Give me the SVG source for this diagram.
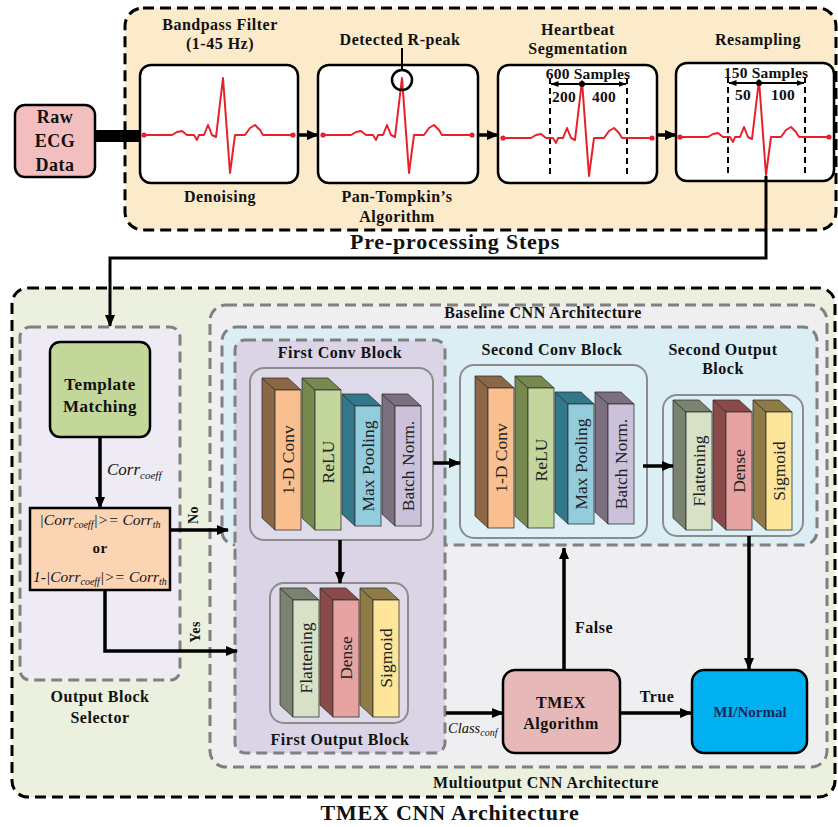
<svg xmlns="http://www.w3.org/2000/svg" width="838" height="827" viewBox="0 0 838 827">
<defs>
<style>
.kd{stroke:#000;stroke-width:3;stroke-dasharray:11 6}
.gd{stroke:#808080;stroke-width:3;stroke-dasharray:11 6}
.panel{fill:#fff;stroke:#000;stroke-width:2.5}
.node{stroke:#000;stroke-width:2.5}
.inner{stroke:#8c8c8c;stroke-width:2}
.t{font-family:"Liberation Serif","Times New Roman",serif;font-weight:bold;font-size:16px;text-anchor:middle;letter-spacing:0.5px;fill:#111}
.big{font-size:22px;letter-spacing:0.8px}
.num{font-size:15.5px;letter-spacing:0.2px}
.lyr{font-family:"Liberation Serif","Times New Roman",serif;font-size:17.5px;text-anchor:middle;fill:#222}
.it{font-family:"Liberation Serif","Times New Roman",serif;font-style:italic;font-size:15.5px;fill:#111}
.conn{fill:none;stroke:#000;stroke-width:3.5}
.thin{fill:none;stroke:#000;stroke-width:2}
.vd{fill:none;stroke:#000;stroke-width:2;stroke-dasharray:6 4}
.ecg{fill:none;stroke:#e8202a;stroke-width:2;stroke-linejoin:round}
.dot{fill:#e8202a}
.ln{stroke:#333;stroke-width:0.8}
</style>
<marker id="ah" viewBox="0 0 12 10" refX="11" refY="5" markerWidth="12" markerHeight="10" markerUnits="userSpaceOnUse" orient="auto">
<path d="M0,0 L12,5 L0,10 z" fill="#000"/>
</marker>
<marker id="as" viewBox="0 0 8 6" refX="7.5" refY="3" markerWidth="8" markerHeight="6" markerUnits="userSpaceOnUse" orient="auto-start-reverse">
<path d="M0,0 L8,3 L0,6 z" fill="#000"/>
</marker>
<g id="ecgw">
<path class="ecg" d="M0,0 L28,0 L33,-3 L38,-4 L43,0 L50,0 L53,5 L55,0 L60,0 L64,-10 L68,0 L72,2 L79,-57 L86,38 L91,0 L101,0 L106,-7 L111,-10 L116,-5 L119,0 L149,0"/>
<circle class="dot" cx="0" cy="0" r="2.6"/>
<circle class="dot" cx="149" cy="0" r="2.6"/>
</g>
</defs>

<rect width="838" height="827" fill="#fff"/>

<g id="preprocessing">
<rect class="kd" x="125" y="8" width="711" height="222" rx="18" fill="#fcebca"/>
<text class="t big" x="455" y="249">Pre-processing Steps</text>
</g>

<g id="raw-ecg">
<rect class="node" x="15" y="105" width="80" height="72" rx="10" fill="#f3bfbe"/>
<text class="t" x="55" y="123" style="font-size:18px">Raw</text>
<text class="t" x="55" y="147" style="font-size:18px">ECG</text>
<text class="t" x="55" y="171" style="font-size:18px">Data</text>
</g>

<g id="step-denoise">
<text class="t" x="220" y="30">Bandpass Filter</text>
<text class="t" x="220" y="49">(1-45 Hz)</text>
<rect class="panel" x="140" y="65" width="158" height="118" rx="11"/>
<use href="#ecgw" transform="translate(144,135)"/>
<text class="t" x="220" y="202">Denoising</text>
</g>

<g id="step-rpeak">
<text class="t" x="400" y="45">Detected R-peak</text>
<rect class="panel" x="318" y="65" width="160" height="118" rx="11"/>
<use href="#ecgw" transform="translate(323,135)"/>
<line class="thin" x1="402" y1="48" x2="402" y2="70"/>
<circle cx="402" cy="80" r="10" fill="none" stroke="#000" stroke-width="2.5"/>
<text class="t" x="397" y="202">Pan-Tompkin’s</text>
<text class="t" x="397" y="222">Algorithm</text>
</g>

<g id="step-segment">
<text class="t" x="578" y="35">Heartbeat</text>
<text class="t" x="578" y="54">Segmentation</text>
<rect class="panel" x="498" y="65" width="159" height="118" rx="11"/>
<line class="vd" x1="550" y1="78" x2="550" y2="178"/>
<line class="vd" x1="627" y1="78" x2="627" y2="178"/>
<use href="#ecgw" transform="translate(503,138)"/>
<line class="thin" x1="551" y1="84" x2="626" y2="84" marker-start="url(#as)" marker-end="url(#as)"/>
<circle cx="582" cy="84" r="3" fill="#000"/>
<text class="t num" x="588" y="79">600 Samples</text>
<text class="t num" x="564" y="102">200</text>
<text class="t num" x="604" y="102">400</text>
</g>

<g id="step-resample">
<text class="t" x="758" y="45">Resampling</text>
<rect class="panel" x="676" y="63" width="158" height="118" rx="11"/>
<line class="vd" x1="728" y1="77" x2="728" y2="176"/>
<line class="vd" x1="805" y1="77" x2="805" y2="176"/>
<use href="#ecgw" transform="translate(680,137)"/>
<line class="thin" x1="729" y1="83" x2="804" y2="83" marker-start="url(#as)" marker-end="url(#as)"/>
<circle cx="759" cy="83" r="3" fill="#000"/>
<text class="t num" x="766" y="78">150 Samples</text>
<text class="t num" x="743" y="100">50</text>
<text class="t num" x="783" y="100">100</text>
</g>

<g id="tmex-cnn">
<rect class="kd" x="12" y="288" width="823" height="509" rx="16" fill="#ebf1de"/>
<text class="t big" x="450" y="820">TMEX CNN Architecture</text>
</g>

<g id="output-block-selector">
<rect class="gd" x="20" y="327" width="160" height="353" rx="10" fill="#eeebf5"/>
<text class="t" x="100" y="702">Output Block</text>
<text class="t" x="100" y="723">Selector</text>
</g>

<g id="multioutput">
<rect class="gd" x="210" y="305" width="617" height="462" rx="16" fill="#efeff2"/>
<text class="t" x="546" y="788">Multioutput CNN Architecture</text>
</g>

<g id="baseline">
<rect class="gd" x="222" y="327" width="595" height="218" rx="14" fill="#dbeef4"/>
<text class="t" x="543" y="318">Baseline CNN Architecture</text>
</g>

<g id="template-matching">
<rect class="node" x="50" y="342" width="100" height="95" rx="10" fill="#c4d79b"/>
<text class="t" x="100" y="390" style="font-size:17px">Template</text>
<text class="t" x="100" y="412" style="font-size:17px">Matching</text>
</g>

<g id="condition">
<rect class="node" x="30" y="508" width="140" height="82" fill="#fbd4b4"/>
<text class="it" x="100" y="525" text-anchor="middle">|Corr<tspan font-size="10" dy="3">coeff</tspan><tspan dy="-3">|&gt;= Corr</tspan><tspan font-size="10" dy="3">th</tspan></text>
<text class="t" x="100" y="553" style="font-size:15px">or</text>
<text class="it" x="100" y="582" text-anchor="middle">1-|Corr<tspan font-size="10" dy="3">coeff</tspan><tspan dy="-3">|&gt;= Corr</tspan><tspan font-size="10" dy="3">th</tspan></text>
</g>

<g id="first-conv-block">
<rect class="gd" x="235" y="340" width="210" height="413" rx="10" fill="#dad4e6"/>
<text class="t" x="340" y="358">First Conv Block</text>
<rect class="inner" x="250" y="368" width="183" height="172" rx="14" fill="#dfdaea"/>
<polygon class="ln" points="262,378 275,390 275,530 262,518" fill="#8b6746"/>
<polygon class="ln" points="262,378 288,378 301,390 275,390" fill="#8b6746"/>
<rect class="ln" x="275" y="390" width="26" height="140" fill="#fabf8f"/>
<text class="lyr" transform="translate(288,460) rotate(-90)" dy="6">1-D Conv</text>
<polygon class="ln" points="302,378 315,390 315,530 302,518" fill="#77894f"/>
<polygon class="ln" points="302,378 328,378 341,390 315,390" fill="#77894f"/>
<rect class="ln" x="315" y="390" width="26" height="140" fill="#c3d69b"/>
<text class="lyr" transform="translate(328,462) rotate(-90)" dy="6">ReLU</text>
<polygon class="ln" points="342,394 355,406 355,526 342,514" fill="#31788a"/>
<polygon class="ln" points="342,394 368,394 381,406 355,406" fill="#31788a"/>
<rect class="ln" x="355" y="406" width="26" height="120" fill="#93cddd"/>
<text class="lyr" transform="translate(368,466) rotate(-90)" dy="6">Max Pooling</text>
<polygon class="ln" points="382,394 395,406 395,526 382,514" fill="#7b6f80"/>
<polygon class="ln" points="382,394 408,394 421,406 395,406" fill="#7b6f80"/>
<rect class="ln" x="395" y="406" width="26" height="120" fill="#ccc1da"/>
<text class="lyr" transform="translate(408,466) rotate(-90)" dy="6">Batch Norm.</text>
</g>

<g id="first-output-block">
<rect class="inner" x="270" y="583" width="138" height="140" rx="14" fill="#dfdaea"/>
<polygon class="ln" points="280,588 293,600 293,717 280,705" fill="#7a8270"/>
<polygon class="ln" points="280,588 306,588 319,600 293,600" fill="#7a8270"/>
<rect class="ln" x="293" y="600" width="26" height="117" fill="#d8e0c6"/>
<text class="lyr" transform="translate(306,658) rotate(-90)" dy="6">Flattening</text>
<polygon class="ln" points="320,588 333,600 333,717 320,705" fill="#8a4a4a"/>
<polygon class="ln" points="320,588 346,588 359,600 333,600" fill="#8a4a4a"/>
<rect class="ln" x="333" y="600" width="26" height="117" fill="#e6a3a1"/>
<text class="lyr" transform="translate(346,658) rotate(-90)" dy="6">Dense</text>
<polygon class="ln" points="360,588 373,600 373,717 360,705" fill="#8e7b45"/>
<polygon class="ln" points="360,588 386,588 399,600 373,600" fill="#8e7b45"/>
<rect class="ln" x="373" y="600" width="26" height="117" fill="#fde59a"/>
<text class="lyr" transform="translate(386,658) rotate(-90)" dy="6">Sigmoid</text>
<text class="t" x="340" y="745">First Output Block</text>
</g>

<g id="second-conv-block">
<text class="t" x="552" y="355">Second Conv Block</text>
<rect class="inner" x="460" y="365" width="187" height="173" rx="14" fill="#dcf0f5"/>
<polygon class="ln" points="475,376 488,388 488,528 475,516" fill="#8b6746"/>
<polygon class="ln" points="475,376 501,376 514,388 488,388" fill="#8b6746"/>
<rect class="ln" x="488" y="388" width="26" height="140" fill="#fabf8f"/>
<text class="lyr" transform="translate(501,458) rotate(-90)" dy="6">1-D Conv</text>
<polygon class="ln" points="515,376 528,388 528,528 515,516" fill="#77894f"/>
<polygon class="ln" points="515,376 541,376 554,388 528,388" fill="#77894f"/>
<rect class="ln" x="528" y="388" width="26" height="140" fill="#c3d69b"/>
<text class="lyr" transform="translate(541,460) rotate(-90)" dy="6">ReLU</text>
<polygon class="ln" points="555,392 568,404 568,524 555,512" fill="#31788a"/>
<polygon class="ln" points="555,392 581,392 594,404 568,404" fill="#31788a"/>
<rect class="ln" x="568" y="404" width="26" height="120" fill="#93cddd"/>
<text class="lyr" transform="translate(581,464) rotate(-90)" dy="6">Max Pooling</text>
<polygon class="ln" points="595,392 608,404 608,524 595,512" fill="#7b6f80"/>
<polygon class="ln" points="595,392 621,392 634,404 608,404" fill="#7b6f80"/>
<rect class="ln" x="608" y="404" width="26" height="120" fill="#ccc1da"/>
<text class="lyr" transform="translate(621,464) rotate(-90)" dy="6">Batch Norm.</text>
</g>

<g id="second-output-block">
<text class="t" x="723" y="355">Second Output</text>
<text class="t" x="723" y="374">Block</text>
<rect class="inner" x="663" y="395" width="140" height="141" rx="14" fill="#dcf0f5"/>
<polygon class="ln" points="673,400 686,412 686,530 673,518" fill="#7a8270"/>
<polygon class="ln" points="673,400 699,400 712,412 686,412" fill="#7a8270"/>
<rect class="ln" x="686" y="412" width="26" height="118" fill="#d8e0c6"/>
<text class="lyr" transform="translate(699,471) rotate(-90)" dy="6">Flattening</text>
<polygon class="ln" points="713,400 726,412 726,530 713,518" fill="#8a4a4a"/>
<polygon class="ln" points="713,400 739,400 752,412 726,412" fill="#8a4a4a"/>
<rect class="ln" x="726" y="412" width="26" height="118" fill="#e6a3a1"/>
<text class="lyr" transform="translate(739,471) rotate(-90)" dy="6">Dense</text>
<polygon class="ln" points="753,400 766,412 766,530 753,518" fill="#8e7b45"/>
<polygon class="ln" points="753,400 779,400 792,412 766,412" fill="#8e7b45"/>
<rect class="ln" x="766" y="412" width="26" height="118" fill="#fde59a"/>
<text class="lyr" transform="translate(779,471) rotate(-90)" dy="6">Sigmoid</text>
</g>

<g id="tmex-algorithm">
<rect class="node" x="503" y="670" width="117" height="83" rx="12" fill="#e6b9b8"/>
<text class="t" x="561" y="708">TMEX</text>
<text class="t" x="561" y="729">Algorithm</text>
</g>

<g id="mi-normal">
<rect class="node" x="692" y="670" width="115" height="83" rx="12" fill="#00b0f0"/>
<text class="t" x="750" y="717" style="fill:#1b2a5a;font-size:15px;letter-spacing:0">MI/Normal</text>
</g>

<g id="connectors">
<line x1="95" y1="136" x2="141" y2="136" stroke="#000" stroke-width="12"/>
<line class="conn" x1="298" y1="135" x2="318" y2="135" marker-end="url(#ah)"/>
<line class="conn" x1="478" y1="135" x2="498" y2="135" marker-end="url(#ah)"/>
<line class="conn" x1="657" y1="135" x2="676" y2="135" marker-end="url(#ah)"/>
<polyline class="conn" points="766,176 766,258 110,258 110,326" marker-end="url(#ah)" style="stroke-width:3"/>
<line class="conn" x1="100" y1="437" x2="100" y2="508" marker-end="url(#ah)"/>
<line class="conn" x1="170" y1="530" x2="228" y2="530" marker-end="url(#ah)"/>
<polyline class="conn" points="105,590 105,651 237,651" marker-end="url(#ah)"/>
<line class="conn" x1="433" y1="463" x2="460" y2="463" marker-end="url(#ah)"/>
<line class="conn" x1="340" y1="540" x2="340" y2="583" marker-end="url(#ah)"/>
<line class="conn" x1="643" y1="466" x2="673" y2="466" marker-end="url(#ah)"/>
<line class="conn" x1="749" y1="536" x2="749" y2="669" marker-end="url(#ah)"/>
<line class="conn" x1="446" y1="713" x2="503" y2="713" marker-end="url(#ah)"/>
<line class="conn" x1="620" y1="713" x2="691" y2="713" marker-end="url(#ah)"/>
<line class="conn" x1="564" y1="670" x2="564" y2="548" marker-end="url(#ah)"/>
<text class="it" x="107" y="475" style="font-size:17px">Corr<tspan font-size="11" dy="4">coeff</tspan></text>
<text class="t" transform="translate(193,515) rotate(-90)" dy="5" style="font-size:14px">No</text>
<text class="t" transform="translate(195,632) rotate(-90)" dy="5" style="font-size:14px">Yes</text>
<text class="it" x="448" y="733" style="font-size:14.5px">Class<tspan font-size="10" dy="3">conf</tspan></text>
<text class="t" x="594" y="633">False</text>
<text class="t" x="657" y="702">True</text>
</g>
</svg>
